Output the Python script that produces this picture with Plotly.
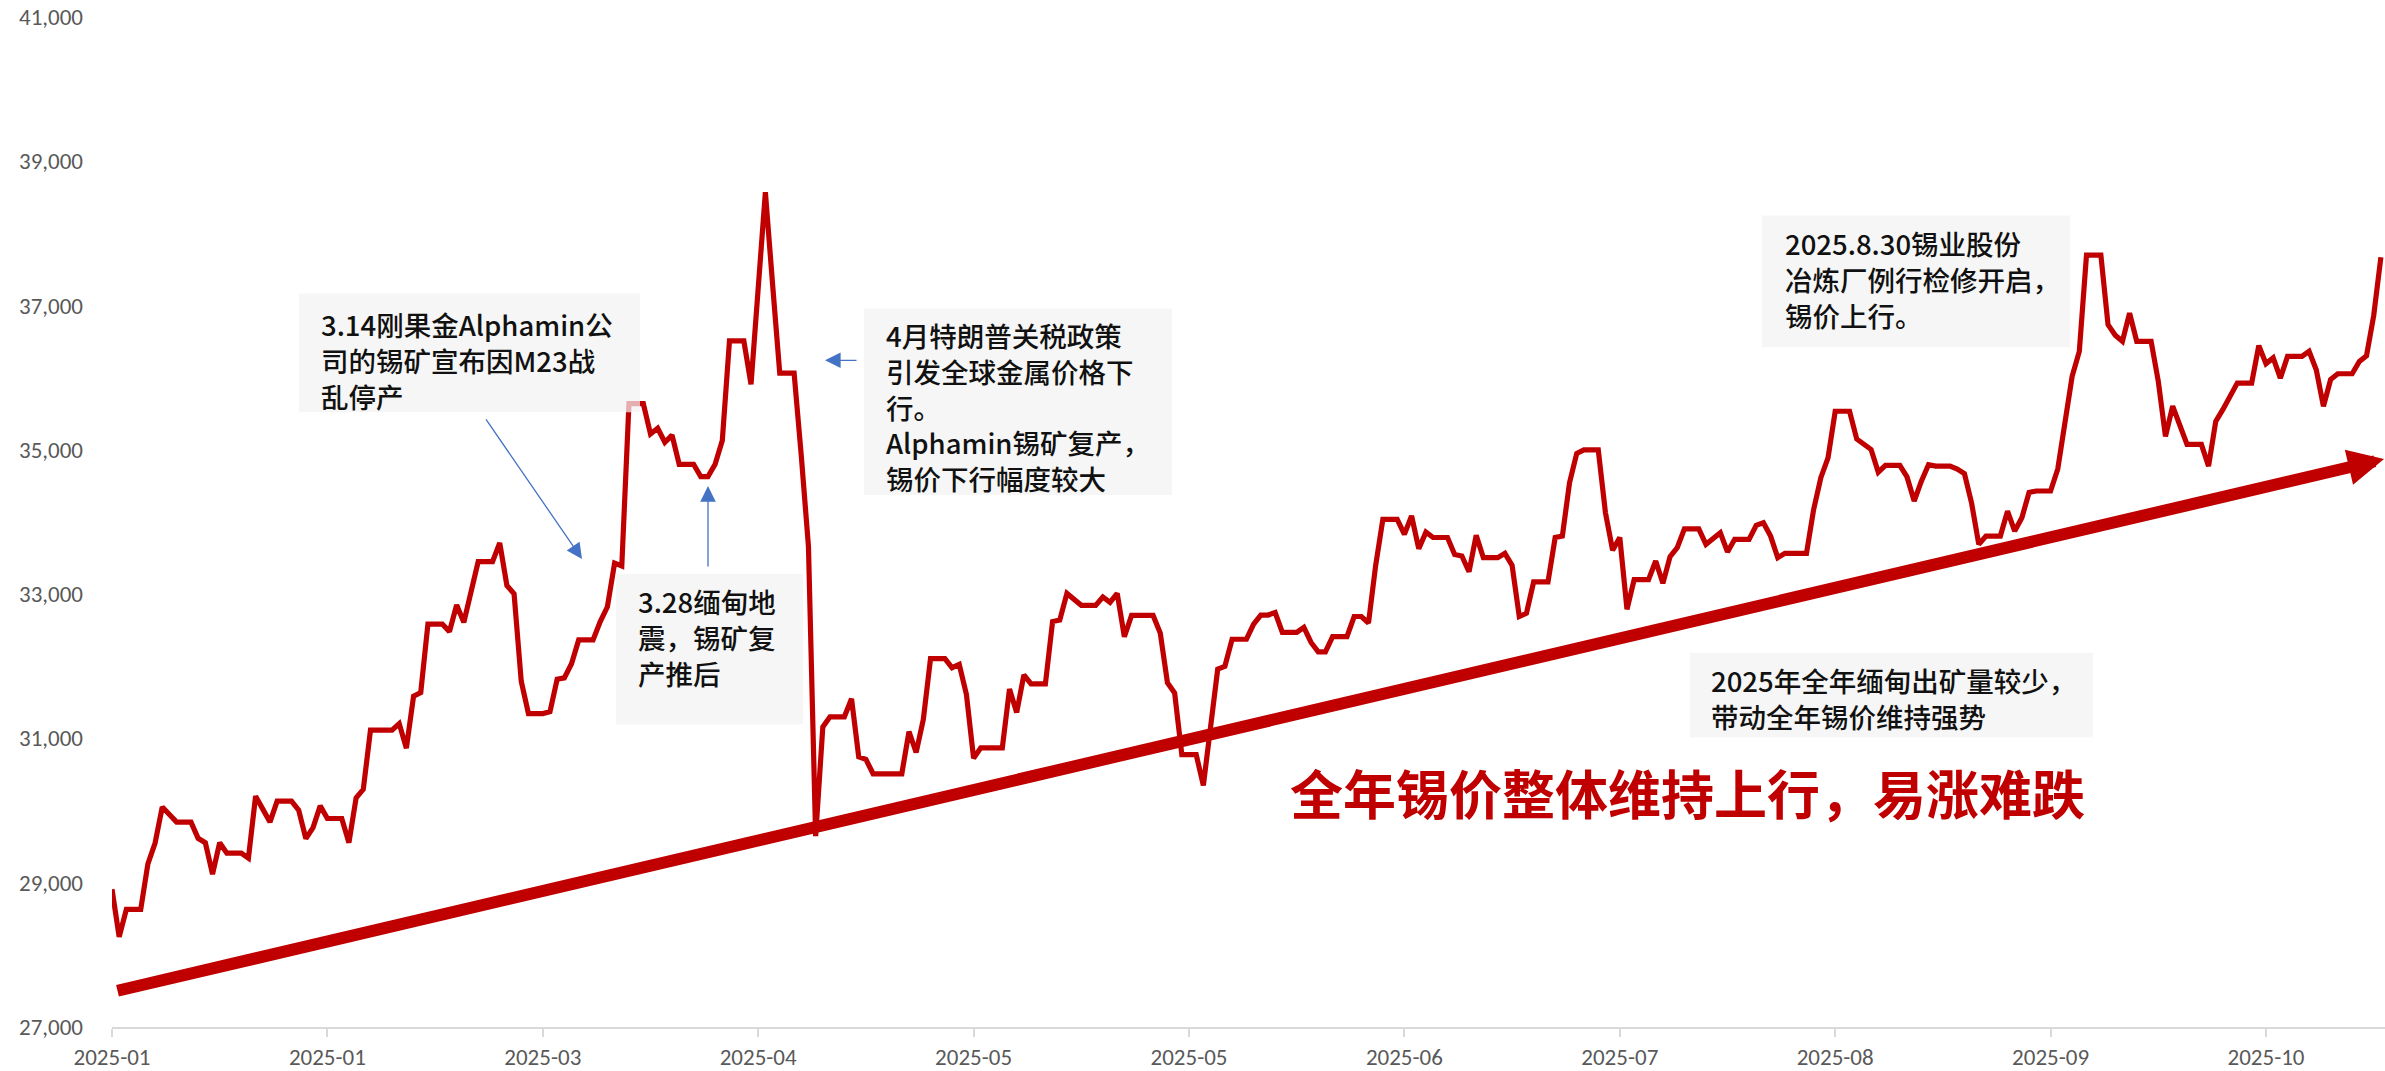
import pandas as pd
import plotly.graph_objects as go

# ---------------- data ----------------
start_date = "2025-01-01"

# Daily tin price (weekends / holidays carry the previous trading value)
tin_price = [
    28910, 28250, 28630, 28630, 28630,
    29260, 29550, 30050, 29940, 29840, 29840, 29840,
    29615, 29555, 29120, 29555, 29410, 29410, 29410,
    29340, 30200, 30020, 29840, 30130, 30130, 30130,
    30005, 29610, 29765, 30065, 29890, 29890, 29890,
    29555, 30175, 30295, 31115, 31115, 31115, 31115,
    31205, 30865, 31585, 31635, 32585, 32585, 32585,
    32480, 32850, 32610, 33045, 33450, 33450, 33450,
    33710, 33120, 33005, 31790, 31345, 31345, 31345,
    31370, 31820, 31840, 32035, 32365, 32365, 32365,
    32620, 32825, 33430, 33390, 35640, 35640, 35640,
    35220, 35300, 35105, 35205, 34800, 34800, 34800,
    34630, 34630, 34800, 35130, 36510, 36510, 36510,
    35910, 37240, 38570, 37300, 36065, 36065, 36065,
    34920, 33660, 29645, 31160, 31300, 31300, 31300,
    31550, 30745, 30710, 30510, 30510, 30510, 30510,
    30510, 31095, 30805, 31265, 32105, 32105, 32105,
    31980, 32025, 31610, 30725, 30870, 30870, 30870,
    30870, 31685, 31360, 31880, 31755, 31755, 31755,
    32620, 32640, 33010, 32930, 32845, 32845, 32845,
    32960, 32885, 33010, 32410, 32705, 32705, 32705,
    32705, 32460, 31770, 31630, 30775, 30775, 30775,
    30350, 31150, 31960, 32000, 32375, 32375, 32375,
    32585, 32710, 32710, 32745, 32470, 32470, 32470,
    32540, 32330, 32200, 32200, 32410, 32410, 32410,
    32690, 32690, 32600, 33400, 34035, 34035, 34035,
    33830, 34085, 33630, 33860, 33785, 33785, 33785,
    33550, 33530, 33310, 33815, 33505, 33505, 33505,
    33565, 33400, 32690, 32735, 33170, 33170, 33170,
    33785, 33805, 34545, 34950, 35000, 35000, 35000,
    34130, 33610, 33785, 32790, 33200, 33200, 33200,
    33460, 33150, 33520, 33645, 33905, 33905, 33905,
    33690, 33770, 33850, 33585, 33760, 33760, 33760,
    33955, 33990, 33805, 33505, 33565, 33565, 33565,
    33565, 34175, 34615, 34890, 35535, 35535, 35535,
    35150, 35075, 35005, 34690, 34785, 34785, 34785,
    34625, 34290, 34565, 34795, 34775, 34775, 34775,
    34735, 34670, 34260, 33690, 33805, 33805, 33805,
    34150, 33875, 34060, 34410, 34430, 34430, 34430,
    34735, 35325, 36020, 36365, 37700, 37700, 37700,
    36735, 36590, 36505, 36895, 36505, 36505, 36505,
    35950, 35185, 35605, 35350, 35075, 35075, 35075,
    34775, 35395, 35560, 35745, 35925, 35925, 35925,
    36445, 36195, 36275, 35995, 36295, 36295, 36295,
    36365, 36110, 35605, 35975, 36055, 36055, 36055,
    36225, 36305, 36860, 37670,
]
dates = pd.date_range(start_date, periods=len(tin_price), freq="D")

y_min, y_max, y_step = 27000, 41000, 2000
tick_days = 30

note_314 = ["3.14刚果金Alphamin公", "司的锡矿宣布因M23战", "乱停产"]
note_328 = ["3.28缅甸地", "震，锡矿复", "产推后"]
note_apr = ["4月特朗普关税政策", "引发全球金属价格下", "行。", "Alphamin锡矿复产，", "锡价下行幅度较大"]
note_830 = ["2025.8.30锡业股份", "冶炼厂例行检修开启，", "锡价上行。"]
note_year = ["2025年全年缅甸出矿量较少，", "带动全年锡价维持强势"]
headline = "全年锡价整体维持上行，易涨难跌"

# ---------------- layout helpers ----------------
W, H = 2385, 1071
L, R, T, B = 112, 0, 17, 42
RED = "#C00000"
BLUE = "#4472C4"
GREY_TXT = "#595959"
BOX_FILL = "rgba(242,242,242,0.72)"
CJK = "Noto Sans CJK SC, Noto Sans, sans-serif"
AXIS_FONT = "Carlito, Liberation Sans Narrow, Roboto, sans-serif"
NOTE_SIZE = 27.5


def px(x):
    return (x - L) / (W - L - R)


def py(y):
    return 1 - (y - T) / (H - T - B)


px_per_day = 7.18
x_end = pd.Timestamp(start_date) + pd.Timedelta(days=(W - L - R) / px_per_day)

fig = go.Figure()
fig.add_trace(go.Scatter(
    x=dates, y=tin_price, mode="lines",
    line=dict(color=RED, width=5.2),
    hoverinfo="skip", showlegend=False,
))

shapes = []
annotations = []


def text_box(x0, y0, x1, y1, text_left, first_line, last_line, lines):
    shapes.append(dict(
        type="rect", xref="paper", yref="paper",
        x0=px(x0), x1=px(x1), y0=py(y1), y1=py(y0),
        fillcolor=BOX_FILL, line=dict(width=0), layer="above",
    ))
    annotations.append(dict(
        xref="paper", yref="paper", x=px(text_left),
        y=py((first_line + last_line) / 2),
        xanchor="left", yanchor="middle", align="left", showarrow=False,
        text="<br>".join(lines),
        font=dict(family=CJK, size=NOTE_SIZE, color="#111111", weight=500),
    ))


def pointer(x_from, y_from, x_to, y_to, color, width, size):
    annotations.append(dict(
        xref="paper", yref="paper", axref="pixel", ayref="pixel",
        x=px(x_to), y=py(y_to), ax=x_from - x_to, ay=y_from - y_to,
        text="", showarrow=True, arrowhead=2, arrowsize=size,
        arrowwidth=width, arrowcolor=color,
    ))


text_box(299, 294, 640, 413, 319, 325, 396, note_314)
text_box(616, 575, 803, 726, 636, 603, 673, note_328)
text_box(864, 309, 1172, 496, 884, 337, 478, note_apr)
text_box(1762, 216, 2070, 348, 1783, 245, 315, note_830)
text_box(1690, 654, 2093, 739, 1709, 682, 717, note_year)

pointer(485, 419, 582, 560, BLUE, 1.3, 2.4)
pointer(708, 569, 708, 487, BLUE, 1.3, 2.4)
pointer(858, 361, 825, 361, BLUE, 1.3, 2.4)

# trend arrow
pointer(116, 992, 2385, 460, RED, 12, 0.6)

annotations.append(dict(
    xref="paper", yref="paper", x=px(1288), y=py(794),
    xanchor="left", yanchor="middle", showarrow=False,
    text="<b>" + headline + "</b>",
    font=dict(family=CJK, size=53, color=RED),
))

fig.update_layout(
    width=W, height=H,
    margin=dict(l=L, r=R, t=T, b=B, pad=0),
    paper_bgcolor="white", plot_bgcolor="white",
    shapes=shapes, annotations=annotations,
    showlegend=False,
    xaxis=dict(
        type="date", range=[pd.Timestamp(start_date), x_end],
        tick0=start_date, dtick=tick_days * 86400000, tickformat="%Y-%m",
        showline=True, linecolor="#D9D9D9", linewidth=2,
        ticks="outside", ticklen=8, tickwidth=2, tickcolor="#D9D9D9",
        showgrid=False, zeroline=False,
        tickfont=dict(family=AXIS_FONT, size=23, color=GREY_TXT),
    ),
    yaxis=dict(
        range=[y_min, y_max], tick0=y_min, dtick=y_step, tickformat=",d",
        showline=False, showgrid=False, zeroline=False, ticks="",
        ticklabelstandoff=28,
        tickfont=dict(family=AXIS_FONT, size=23, color=GREY_TXT),
    ),
)

fig.write_html("out.html")
